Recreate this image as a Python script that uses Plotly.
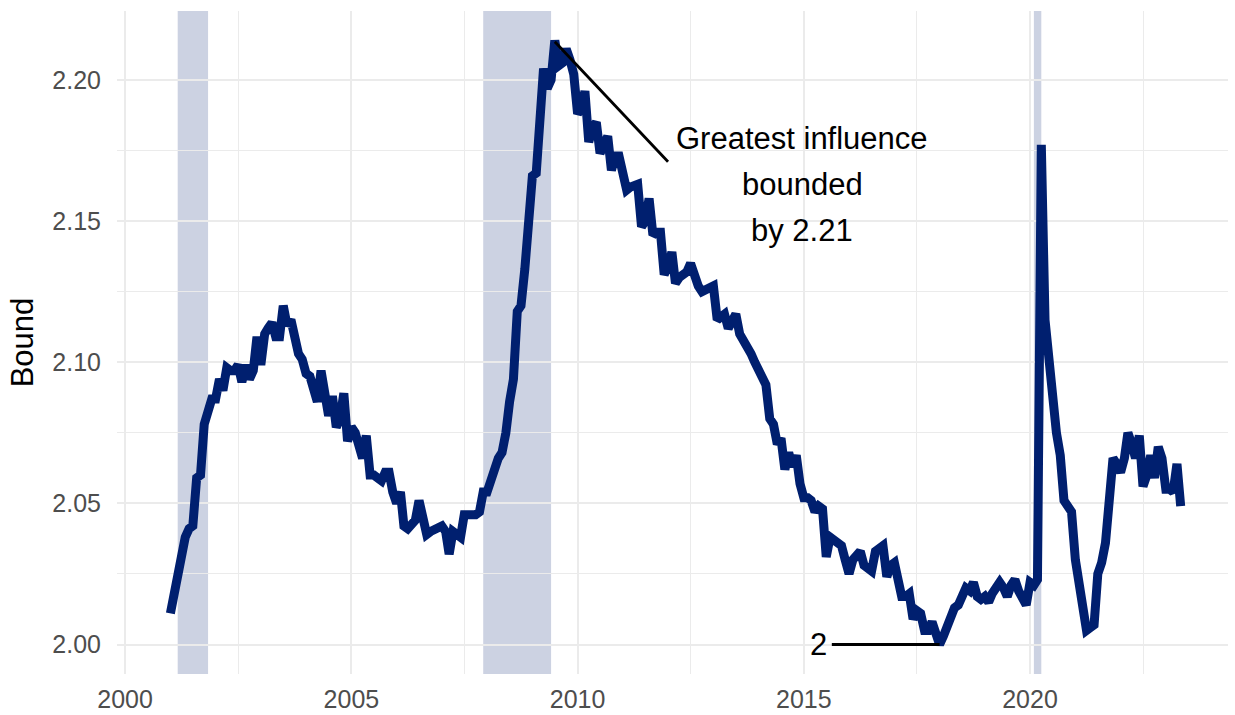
import pandas as pd
import plotly.graph_objects as go

# ---------------- data ----------------
start_month = "2001-01-01"
bound = [
    # 2001
    2.011, 2.018, 2.027, 2.033, 2.038, 2.041, 2.042, 2.059, 2.060, 2.078, 2.082, 2.087,
    # 2002
    2.087, 2.094, 2.090, 2.098, 2.097, 2.097, 2.099, 2.093, 2.099, 2.094, 2.097, 2.109,
    # 2003
    2.099, 2.110, 2.112, 2.114, 2.109, 2.109, 2.120, 2.113, 2.115, 2.107, 2.103, 2.101,
    # 2004
    2.096, 2.095, 2.090, 2.086, 2.097, 2.088, 2.081, 2.088, 2.077, 2.080, 2.089, 2.072,
    # 2005
    2.077, 2.075, 2.071, 2.066, 2.074, 2.060, 2.060, 2.059, 2.058, 2.061, 2.061, 2.054,
    # 2006
    2.050, 2.054, 2.042, 2.041, 2.043, 2.044, 2.051, 2.043, 2.039, 2.040, 2.041, 2.041,
    # 2007
    2.042, 2.040, 2.032, 2.040, 2.039, 2.038, 2.046, 2.046, 2.046, 2.046, 2.047, 2.054,
    # 2008
    2.054, 2.059, 2.063, 2.066, 2.068, 2.075, 2.086, 2.094, 2.118, 2.120, 2.133, 2.153,
    # 2009
    2.166, 2.167, 2.182, 2.204, 2.197, 2.200, 2.214, 2.205, 2.206, 2.211, 2.207, 2.202,
    # 2010
    2.188, 2.190, 2.196, 2.178, 2.183, 2.185, 2.174, 2.178, 2.180, 2.168, 2.173, 2.173,
    # 2011
    2.168, 2.161, 2.162, 2.163, 2.163, 2.148, 2.150, 2.158, 2.145, 2.146, 2.146, 2.131,
    # 2012
    2.134, 2.139, 2.128, 2.130, 2.131, 2.132, 2.135, 2.130, 2.127, 2.125, 2.126, 2.126,
    # 2013
    2.127, 2.115, 2.116, 2.117, 2.112, 2.115, 2.117, 2.110, 2.108, 2.105, 2.103, 2.100,
    # 2014
    2.097, 2.093, 2.092, 2.080, 2.078, 2.071, 2.073, 2.062, 2.068, 2.063, 2.067, 2.057,
    # 2015
    2.052, 2.052, 2.051, 2.047, 2.049, 2.048, 2.031, 2.038, 2.037, 2.036, 2.035, 2.030,
    # 2016
    2.025, 2.030, 2.031, 2.033, 2.028, 2.027, 2.026, 2.033, 2.034, 2.035, 2.024, 2.028,
    # 2017
    2.029, 2.023, 2.017, 2.017, 2.018, 2.009, 2.012, 2.011, 2.005, 2.005, 2.008, 2.004,
    # 2018
    2.000, 2.003, 2.007, 2.009, 2.013, 2.014, 2.017, 2.020, 2.019, 2.022, 2.017, 2.016,
    # 2019
    2.017, 2.015, 2.018, 2.020, 2.022, 2.020, 2.017, 2.021, 2.023, 2.019, 2.016, 2.014,
    # 2020
    2.022, 2.021, 2.023, 2.177, 2.115, 2.099, 2.083, 2.075, 2.067, 2.051, 2.049, 2.047,
    # 2021
    2.030, 2.020, 2.010, 2.005, 2.006, 2.007, 2.025, 2.029, 2.036, 2.048, 2.066, 2.064,
    # 2022
    2.061, 2.066, 2.075, 2.071, 2.066, 2.074, 2.056, 2.060, 2.067, 2.059, 2.070, 2.066,
    # 2023
    2.055, 2.055, 2.054, 2.064, 2.049,
]

recession_start = ["2001-03-01", "2007-12-01", "2020-02-01"]
recession_end = ["2001-11-01", "2009-06-01", "2020-04-01"]

x_tick_vals = ["2000-01-01", "2005-01-01", "2010-01-01", "2015-01-01", "2020-01-01"]
x_tick_text = ["2000", "2005", "2010", "2015", "2020"]
x_minor_vals = ["2002-07-02", "2007-07-02", "2012-07-02", "2017-07-02", "2022-07-02"]
y_tick_vals = [2.00, 2.05, 2.10, 2.15, 2.20]
y_tick_text = ["2.00", "2.05", "2.10", "2.15", "2.20"]
y_minor_vals = [2.025, 2.075, 2.125, 2.175]

# annotation: text lines and leader segments
note_lines = ["Greatest influence", "bounded", "by 2.21"]
note_x = "2014-12-20"
note_y = [2.1793, 2.1628, 2.1468]
note_seg_x = ["2009-07-01", "2012-01-01"]
note_seg_y = [2.2135, 2.171]
min_label = "2"
min_label_x = "2015-05-01"
min_label_y = 2.000
min_seg_x = ["2015-08-15", "2018-01-01"]
min_seg_y = [2.000, 2.000]

# ---------------- figure ----------------
LINE_COLOR = "#001f6f"
FONT = "Liberation Sans, Arial, sans-serif"
dates = pd.date_range(start_month, periods=len(bound), freq="MS")

fig = go.Figure()
fig.add_trace(go.Scatter(
    x=dates, y=bound, mode="lines",
    line=dict(color=LINE_COLOR, width=9),
    hoverinfo="x+y", showlegend=False,
))

for s, e in zip(recession_start, recession_end):
    fig.add_shape(type="rect", xref="x", yref="paper", x0=s, x1=e, y0=0, y1=1,
                  fillcolor="rgba(0,31,111,0.2)", line=dict(width=0), layer="between")

fig.add_shape(type="line", xref="x", yref="y",
              x0=note_seg_x[0], x1=note_seg_x[1], y0=note_seg_y[0], y1=note_seg_y[1],
              line=dict(color="black", width=2.8), layer="above")
fig.add_shape(type="line", xref="x", yref="y",
              x0=min_seg_x[0], x1=min_seg_x[1], y0=min_seg_y[0], y1=min_seg_y[1],
              line=dict(color="black", width=2.8), layer="above")

for txt, yy in zip(note_lines, note_y):
    fig.add_annotation(x=note_x, y=yy, xref="x", yref="y", text=txt, showarrow=False,
                       xanchor="center", yanchor="middle",
                       font=dict(size=31, color="black", family=FONT))
fig.add_annotation(x=min_label_x, y=min_label_y, xref="x", yref="y", text=min_label,
                   showarrow=False, xanchor="center", yanchor="middle",
                   font=dict(size=31, color="black", family=FONT))

fig.update_layout(
    width=1235, height=715,
    margin=dict(l=117, r=7, t=11, b=41, autoexpand=False),
    plot_bgcolor="white", paper_bgcolor="white",
    font=dict(family=FONT, color="black"),
    showlegend=False,
)
fig.update_xaxes(
    type="date", range=["1999-10-28", "2024-05-17"], automargin=False,
    tickmode="array", tickvals=x_tick_vals, ticktext=x_tick_text,
    tickfont=dict(size=25, color="#4d4d4d"), ticks="", ticklabelstandoff=8,
    showgrid=True, gridcolor="#ebebeb", gridwidth=2.2,
    minor=dict(tickmode="array", tickvals=x_minor_vals, showgrid=True,
               gridcolor="#ebebeb", gridwidth=1.1),
    zeroline=False, showline=False,
)
fig.update_yaxes(
    range=[1.98955, 2.2244], automargin=False,
    tickmode="array", tickvals=y_tick_vals, ticktext=y_tick_text,
    tickfont=dict(size=25, color="#4d4d4d"), ticks="", ticklabelstandoff=15,
    showgrid=True, gridcolor="#ebebeb", gridwidth=2.2,
    minor=dict(tickmode="array", tickvals=y_minor_vals, showgrid=True,
               gridcolor="#ebebeb", gridwidth=1.1),
    zeroline=False, showline=False,
    title=dict(text="Bound", font=dict(size=31, color="black"), standoff=9),
)

fig.write_html(
    "out.html",
    config={"displayModeBar": False},
    post_script="document.body.style.margin='0';document.body.style.overflow='hidden';",
)
